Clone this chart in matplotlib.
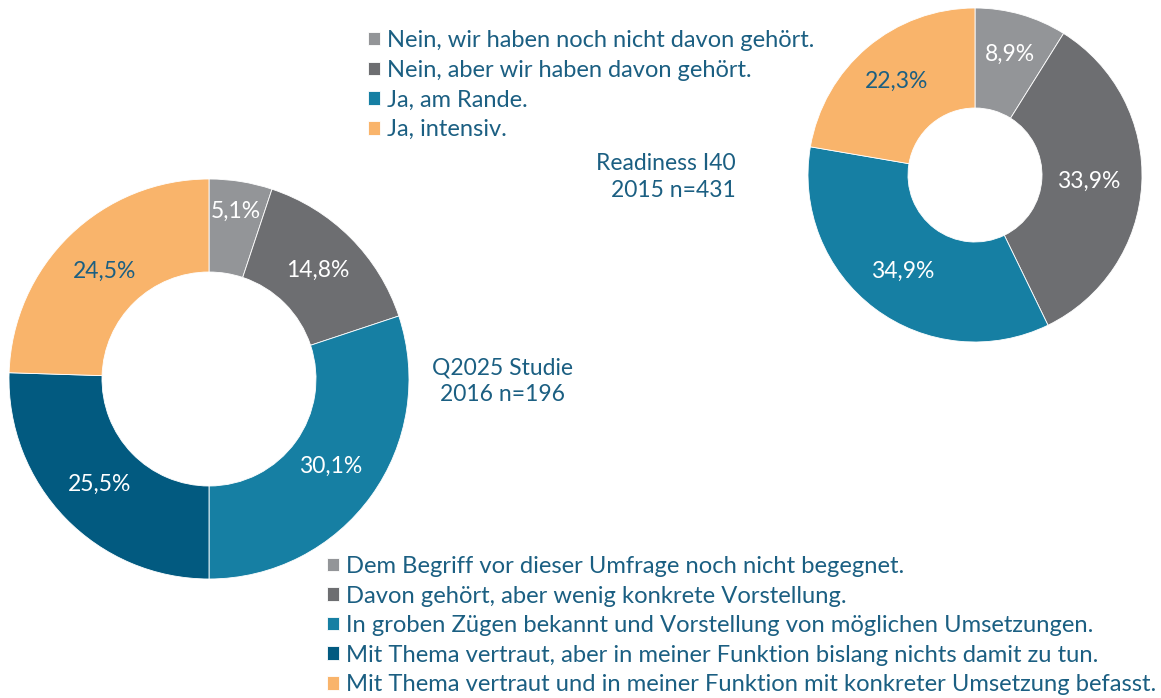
import matplotlib.pyplot as plt
import numpy as np

# Data
q2025_labels = ['Dem Begriff vor dieser Umfrage noch nicht begegnet.',
                'Davon gehört, aber wenig konkrete Vorstellung.',
                'In groben Zügen bekannt und Vorstellung von möglichen Umsetzungen.',
                'Mit Thema vertraut, aber in meiner Funktion bislang nichts damit zu tun.',
                'Mit Thema vertraut und in meiner Funktion mit konkreter Umsetzung befasst.']
q2025_values = [5.1, 14.8, 30.1, 25.5, 24.5]

readiness_labels = ['Nein, wir haben noch nicht davon gehört.',
                    'Nein, aber wir haben davon gehört.',
                    'Ja, am Rande.',
                    'Ja, intensiv.']
readiness_values = [8.9, 33.9, 34.9, 22.3]

q2025_colors = ['#939598', '#6d6e71', '#167fa3', '#025a80', '#f9b46b']
readiness_colors = ['#939598', '#6d6e71', '#167fa3', '#f9b46b']

text_color = '#1b5f82'
plt.rcParams['font.family'] = ['Lato', 'DejaVu Sans']

W, H = 1161, 698
fig = plt.figure(figsize=(W / 100, H / 100), dpi=100)
ax = fig.add_axes([0, 0, 1, 1])
ax.axis('off')


def donut(values, colors, center, radius, width, label_r, label_colors):
    wedges, _ = ax.pie(values, colors=colors, startangle=90, counterclock=False,
                       center=center, radius=radius,
                       wedgeprops=dict(width=width, edgecolor='white', linewidth=0.6))
    for w, v, r, c in zip(wedges, values, label_r, label_colors):
        ang = np.deg2rad((w.theta1 + w.theta2) / 2)
        x = center[0] + r * radius * np.cos(ang)
        y = center[1] + r * radius * np.sin(ang)
        ax.text(x, y, f'{v:.1f}%'.replace('.', ','), ha='center', va='center',
                fontsize=16.5, color=c)
    return wedges


# Left donut (Q2025)
w1 = donut(q2025_values, q2025_colors, (209, H - 379), 200, 200 - 107,
           [0.85, 0.77, 0.75, 0.76, 0.75],
           ['white', 'white', 'white', 'white', text_color])

# Right donut (Readiness)
w2 = donut(readiness_values, readiness_colors, (975, H - 175), 167, 167 - 67,
           [0.75, 0.68, 0.72, 0.73],
           ['white', 'white', 'white', text_color])

ax.set_xlim(0, W)
ax.set_ylim(0, H)
ax.set_aspect('equal')

ax.text(503, H - 381, 'Q2025 Studie\n2016 n=196', ha='center', va='center',
        fontsize=16.5, color=text_color, linespacing=1.3, multialignment='center')
ax.text(736, H - 177, 'Readiness I40\n2015 n=431', ha='right', va='center',
        fontsize=16.5, color=text_color, linespacing=1.3, multialignment='right')

leg1 = fig.legend(w2, readiness_labels, loc='upper left',
                  bbox_to_anchor=(368 / W, 1 - 30 / H), bbox_transform=fig.transFigure,
                  frameon=False, fontsize=17, labelcolor=text_color,
                  handlelength=0.5, handleheight=0.5, handletextpad=0.3,
                  labelspacing=0.37, borderpad=0, borderaxespad=0)
fig.legend(w1, q2025_labels, loc='upper left',
           bbox_to_anchor=(327 / W, 1 - 556 / H), bbox_transform=fig.transFigure,
           frameon=False, fontsize=17.1, labelcolor=text_color,
           handlelength=0.5, handleheight=0.5, handletextpad=0.3,
           labelspacing=0.36, borderpad=0, borderaxespad=0)

plt.savefig('out.png', dpi=100)
